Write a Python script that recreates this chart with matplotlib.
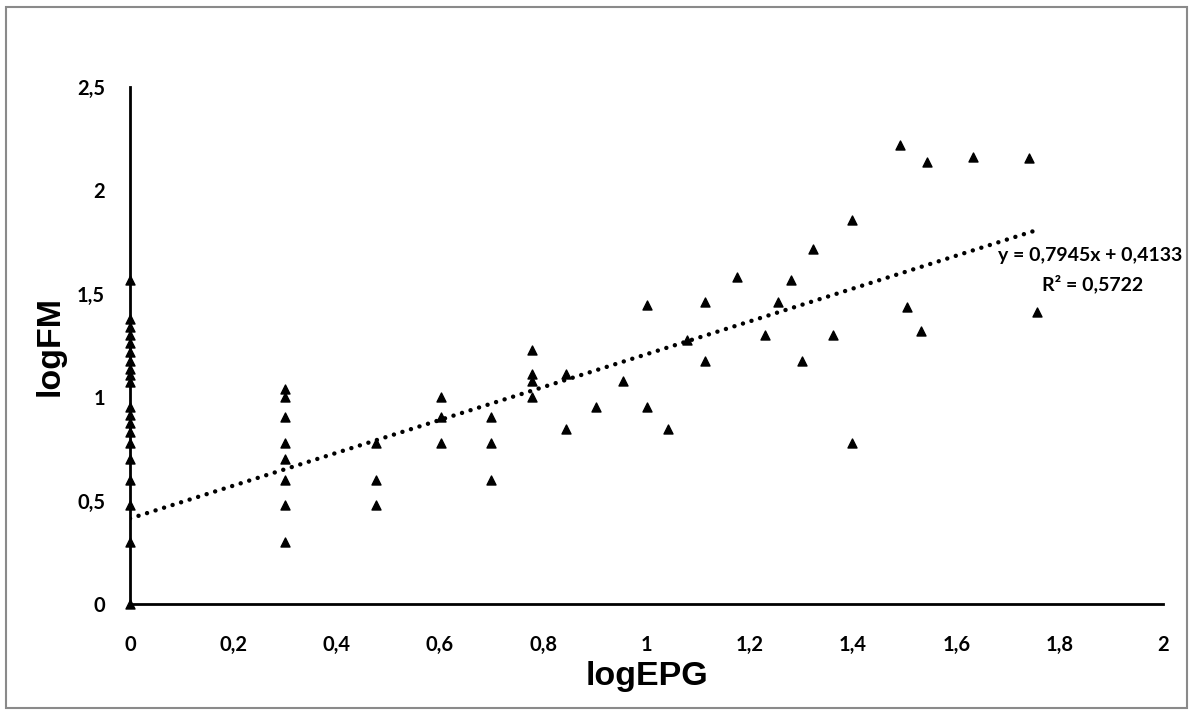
import numpy as np
import matplotlib
matplotlib.use('Agg')
import matplotlib.pyplot as plt
from matplotlib.patches import Rectangle

# x-axis : logEPG, y-axis : logFM
x_epg = [0, 0, 0, 0, 0, 0, 0, 0, 0, 0, 0, 0, 0, 0, 0, 0, 0, 0, 0, 0,
         0.301, 0.301, 0.301, 0.301, 0.301, 0.301, 0.301, 0.301,
         0.477, 0.477, 0.477,
         0.602, 0.602, 0.602,
         0.699, 0.699, 0.699,
         0.778, 0.778, 0.778, 0.778,
         0.845, 0.845, 0.903, 0.954,
         1.0, 1.0, 1.041, 1.079,
         1.114, 1.114, 1.176, 1.23, 1.255, 1.279, 1.301, 1.322,
         1.362, 1.398, 1.398, 1.491, 1.505, 1.531, 1.544, 1.633,
         1.74, 1.756]
y_fm = [1.565, 1.377, 1.338, 1.30, 1.261, 1.217, 1.174, 1.135, 1.106, 1.072,
        0.953, 0.913, 0.874, 0.831, 0.778, 0.699, 0.602, 0.477, 0.301, 0.0,
        1.041, 1.0, 0.903, 0.778, 0.699, 0.602, 0.477, 0.301,
        0.778, 0.602, 0.477,
        1.0, 0.903, 0.778,
        0.903, 0.778, 0.602,
        1.23, 1.114, 1.079, 1.0,
        1.114, 0.845, 0.954, 1.079,
        1.447, 0.954, 0.845, 1.279,
        1.462, 1.176, 1.58, 1.30, 1.462, 1.568, 1.176, 1.716,
        1.301, 1.857, 0.778, 2.22, 1.436, 1.322, 2.137, 2.16,
        2.155, 1.41]

slope = 0.7945
intercept = 0.4133
r2 = 0.5722

xticks = [0, 0.2, 0.4, 0.6, 0.8, 1, 1.2, 1.4, 1.6, 1.8, 2]
xtick_labels = ['0', '0,2', '0,4', '0,6', '0,8', '1', '1,2', '1,4', '1,6', '1,8', '2']
yticks = [0, 0.5, 1, 1.5, 2, 2.5]
ytick_labels = ['0', '0,5', '1', '1,5', '2', '2,5']

if __name__ == "__main__":
    fig = plt.figure(figsize=(11.94, 7.14), dpi=100)
    ax = fig.add_axes([130 / 1194, 110 / 714, 1033 / 1194, 517 / 714])

    # outer frame of the picture
    fig.patches.append(Rectangle((6 / 1194, 6 / 714), 1181 / 1194, 701 / 714,
                                 transform=fig.transFigure, fill=False,
                                 edgecolor='#8a8a8a', lw=1.5))

    ax.scatter(x_epg, y_fm, marker='^', s=42, color='black', clip_on=False, zorder=5)

    # linear trendline
    xl = np.array([0, max(x_epg)])
    ax.plot(xl, slope * xl + intercept, color='black', lw=3.2,
            linestyle=(0, (0.01, 2.0)), dash_capstyle='round', zorder=4)

    ax.text(1.68, 1.686, 'y = {}x + {}'.format(str(slope).replace('.', ','), str(intercept).replace('.', ',')),
            fontsize=14, fontweight='bold', family='Lato', va='center', ha='left')
    ax.text(1.765, 1.55, 'R² = {}'.format(str(r2).replace('.', ',')),
            fontsize=14, fontweight='bold', family='Lato', va='center', ha='left')

    ax.set_xlim(0, 2)
    ax.set_ylim(0, 2.5)
    ax.set_xticks(xticks)
    ax.set_xticklabels(xtick_labels, fontsize=14.5, fontweight='bold', family='Lato')
    ax.set_yticks(yticks)
    ax.set_yticklabels(ytick_labels, fontsize=14.5, fontweight='bold', family='Lato')
    ax.tick_params(length=0, pad=18)
    ax.tick_params(axis='x', pad=22)

    for s in ['top', 'right']:
        ax.spines[s].set_visible(False)
    for s in ['left', 'bottom']:
        ax.spines[s].set_linewidth(2)

    ax.set_xlabel('logEPG', fontsize=24.5, fontweight='bold', family='Liberation Sans', labelpad=5)
    ax.set_ylabel('logFM', fontsize=24.5, fontweight='bold', family='Liberation Sans', labelpad=8)

    fig.savefig('out.png', dpi=100)
